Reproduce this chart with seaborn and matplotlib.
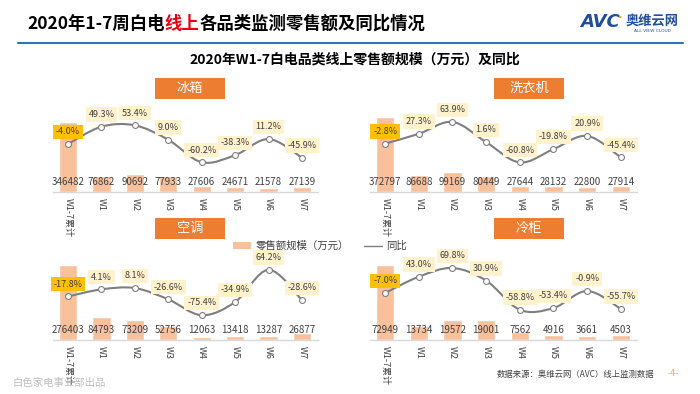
import numpy as np
import matplotlib
matplotlib.use("Agg")
import matplotlib.pyplot as plt
import seaborn as sns
from matplotlib.patches import Rectangle, Patch, PathPatch, Circle
from matplotlib.lines import Line2D
from matplotlib.path import Path

# 数据
weeks = ['W1-7累计', 'W1', 'W2', 'W3', 'W4', 'W5', 'W6', 'W7']
categories = ['冰箱', '洗衣机', '空调', '冷柜']
sales_fridge = [346482, 76862, 90692, 77933, 27606, 24671, 21578, 27139]
yoy_fridge = [-4.0, 49.3, 53.4, 9.0, -60.2, -38.3, 11.2, -45.9]
sales_washer = [372797, 86688, 99169, 80449, 27644, 28132, 22800, 27914]
yoy_washer = [-2.8, 27.3, 63.9, 1.6, -60.8, -19.8, 20.9, -45.4]
sales_ac = [276403, 84793, 73209, 52756, 12063, 13418, 13287, 26877]
yoy_ac = [-17.8, 4.1, 8.1, -26.6, -75.4, -34.9, 64.2, -28.6]
sales_freezer = [72949, 13734, 19572, 19001, 7562, 4916, 3661, 4503]
yoy_freezer = [-7.0, 43.0, 69.8, 30.9, -58.8, -53.4, -0.9, -55.7]

sales_all = [sales_fridge, sales_washer, sales_ac, sales_freezer]
yoy_all = [yoy_fridge, yoy_washer, yoy_ac, yoy_freezer]

W, H = 700, 394
BAR_COLOR = '#F8C19C'
LINE_COLOR = '#7F7F7F'
ORANGE = '#ED7D31'
TXT = '#404040'

sns.set_theme(style="white")
plt.rcParams['font.family'] = ['Noto Sans CJK SC', 'DejaVu Sans']
plt.rcParams['axes.unicode_minus'] = False


def fx(x):
    return x / W


def fy(y):
    return 1 - y / H


def smooth_path(xs, ys):
    # 平滑曲线 (Catmull-Rom -> Bezier)
    pts = np.column_stack([xs, ys]).astype(float)
    n = len(pts)
    verts = [pts[0]]
    codes = [Path.MOVETO]
    for i in range(n - 1):
        p0 = pts[i - 1] if i > 0 else pts[i]
        p1 = pts[i]
        p2 = pts[i + 1]
        p3 = pts[i + 2] if i + 2 < n else pts[i + 1]
        c1 = p1 + (p2 - p0) / 6
        c2 = p2 - (p3 - p1) / 6
        verts += [c1, c2, p2]
        codes += [Path.CURVE4] * 3
    return Path(verts, codes)


fig = plt.figure(figsize=(7, 3.94), dpi=100)

# 各面板位置 (像素): 左, 右, 基线y, 标题框中心x, 标题框上沿y, 最高柱高度
panels = [
    (53, 318, 192, 190, 78, 70),
    (370, 637, 192, 529, 78, 75),
    (53, 318, 340, 190, 218, 75),
    (370, 637, 340, 529, 218, 75),
]
AX_H = 92
ZERO_PX = 49.3
PX_PER_PCT = 0.325

for k, (x0, x1, base, tcx, tty, barpx) in enumerate(panels):
    sales = sales_all[k]
    yoy = yoy_all[k]
    ax = fig.add_axes([fx(x0), fy(base), (x1 - x0) / W, AX_H / H])
    sns.barplot(x=weeks, y=sales, ax=ax, color=BAR_COLOR, width=0.55,
                saturation=1, order=weeks)
    ax.set_xlim(-0.45, 7.48)
    ax.set_ylim(0, max(sales) * AX_H / barpx)
    ax.set_yticks([])
    ax.set_ylabel('')
    for s in ['top', 'left', 'right']:
        ax.spines[s].set_visible(False)
    ax.spines['bottom'].set_color('#D9D9D9')
    ax.spines['bottom'].set_linewidth(1.0)
    ax.set_xticks(range(len(weeks)))
    ax.set_xticklabels(weeks, rotation=-90, fontsize=6.5, color=TXT)
    ax.tick_params(axis='x', length=0, pad=4)
    for i, v in enumerate(sales):
        ax.text(i, 10 / AX_H, str(v), transform=ax.get_xaxis_transform(),
                ha='center', va='center', fontsize=7, color=TXT)

    ax2 = ax.twinx()
    ax2.set_ylim(-ZERO_PX / PX_PER_PCT, (AX_H - ZERO_PX) / PX_PER_PCT)
    ax2.set_xlim(-0.45, 7.48)
    ax2.set_yticks([])
    for s in ax2.spines.values():
        s.set_visible(False)
    ax2.add_patch(PathPatch(smooth_path(range(len(yoy)), yoy), fc='none',
                            ec=LINE_COLOR, lw=1.5, zorder=2))
    sns.scatterplot(x=list(range(len(yoy))), y=yoy, ax=ax2, color='white',
                    edgecolor=LINE_COLOR, s=18, linewidth=0.8, zorder=3)
    for i, v in enumerate(yoy):
        fc = '#FFC000' if i == 0 else '#FFF2CC'
        ax2.annotate(f"{v:.1f}%", (i, v), xytext=(0, 8.8),
                     textcoords='offset points', ha='center', va='center',
                     fontsize=6.5, color=TXT, zorder=4,
                     bbox=dict(boxstyle='square,pad=0.3', fc=fc, ec='none'))

    # 面板标题
    fig.add_artist(Rectangle((fx(tcx - 35), fy(tty + 21)), 70 / W, 21 / H,
                             transform=fig.transFigure, fc=ORANGE, ec='none'))
    fig.text(fx(tcx), fy(tty + 10.5), categories[k], ha='center', va='center',
             fontsize=9.5, color='white')

# 图例
handles = [Patch(fc=BAR_COLOR, ec='none'), Line2D([], [], color=LINE_COLOR, lw=1.0)]
fig.legend(handles, ['零售额规模（万元）', '同比'], loc='center',
           bbox_to_anchor=(fx(320), fy(246)), ncol=2, frameon=False,
           fontsize=7.5, handlelength=1.8, handletextpad=0.4,
           columnspacing=1.4, labelcolor=TXT)

# 大标题 (线上 红色)
renderer = fig.canvas.get_renderer()
x = fx(27)
for part, col in [('2020年1-7周白电', 'black'), ('线上', '#E60012'),
                  ('各品类监测零售额及同比情况', 'black')]:
    t = fig.text(x, fy(24), part, ha='left', va='center', fontsize=12.5,
                 fontweight='bold', color=col)
    x = t.get_window_extent(renderer).x1 / fig.bbox.width

fig.add_artist(Line2D([fx(18), fx(683)], [fy(43), fy(43)],
                      transform=fig.transFigure, color='#2E75B6', lw=1.5))
fig.text(fx(355), fy(60), '2020年W1-7白电品类线上零售额规模（万元）及同比',
         ha='center', va='center', fontsize=10, fontweight='bold', color='black')

# 标志
fig.text(fx(580), fy(22), 'AVC', ha='left', va='center', fontsize=13,
         fontweight='bold', style='italic', color='#1F4E9A', family='DejaVu Sans')
fig.add_artist(Circle((fx(620), fy(17)), 1.6 / W, transform=fig.transFigure,
                      fc='#F39800', ec='none'))
fig.text(fx(626), fy(21), '奥维云网', ha='left', va='center', fontsize=9.5,
         fontweight='bold', color='#1F4E9A')
fig.text(fx(652), fy(31), 'ALL VIEW CLOUD', ha='center', va='center',
         fontsize=3.2, color='#1F4E9A', family='DejaVu Sans')

# 页脚
fig.text(fx(12), fy(383), '白色家电事业部出品', ha='left', va='center',
         fontsize=7.5, color='#BFBFBF')
fig.text(fx(497), fy(374), '数据来源：奥维云网（AVC）线上监测数据', ha='left',
         va='center', fontsize=6, color=TXT)
fig.text(fx(673), fy(374), '-4-', ha='center', va='center', fontsize=6.5,
         color='#F5B041')

fig.savefig('out.png', dpi=100)
